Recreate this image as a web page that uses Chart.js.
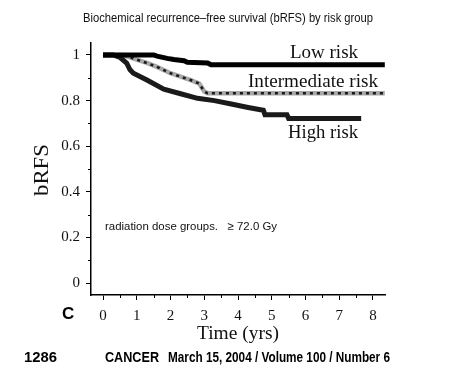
<!DOCTYPE html>
<html><head><meta charset="utf-8">
<script src="https://cdn.jsdelivr.net/npm/chart.js@4.4.1/dist/chart.umd.min.js"></script>
<style>html,body{margin:0;padding:0;background:#fff;overflow:hidden}canvas{display:block}</style>
</head><body>
<canvas id="c" width="455" height="381"></canvas>
<script>
// ---- data ----
const lowRiskTime = [0, 1.5, 1.6, 1.9, 2.1, 2.4, 2.5, 3.1, 3.2, 8.35];
const lowRiskBRFS = [1, 1, 0.995, 0.985, 0.98, 0.975, 0.968, 0.965, 0.957, 0.957];

const intermediateRiskTime = [0, 0.6, 0.8, 1.0, 1.3, 1.6, 2.0, 2.3, 2.6, 2.85, 3.0, 3.1, 8.35];
const intermediateRiskBRFS = [1, 1, 0.99, 0.98, 0.965, 0.948, 0.92, 0.905, 0.89, 0.875, 0.84, 0.832, 0.832];

const highRiskTime = [0, 0.3, 0.5, 0.7, 0.8, 0.9, 1.3, 1.8, 2.3, 2.8, 3.3, 3.8, 4.3, 4.75, 4.8, 5.45, 5.5, 7.65];
const highRiskBRFS = [1, 1, 0.99, 0.965, 0.935, 0.92, 0.89, 0.85, 0.83, 0.81, 0.80, 0.785, 0.77, 0.758, 0.738, 0.738, 0.722, 0.722];

const xTickValues = [0, 1, 2, 3, 4, 5, 6, 7, 8];
const xTickLabels = ['0', '1', '2', '3', '4', '5', '6', '7', '8'];
const yTickValues = [0, 0.2, 0.4, 0.6, 0.8, 1];
const yTickLabels = ['0', '0.2', '0.4', '0.6', '0.8', '1'];
const xMinorTicks = [0.5, 1.5, 2.5, 3.5, 4.5, 5.5, 6.5, 7.5];
const yMinorTicks = [0.1, 0.3, 0.5, 0.7, 0.9];

const titleText = 'Biochemical recurrence\u2013free survival (bRFS) by risk group';
const xTitle = 'Time (yrs)';
const yTitle = 'bRFS';
const panelLetter = 'C';
const noteText = 'radiation dose groups.   \u2265 72.0 Gy';
const seriesLabels = ['Low risk', 'Intermediate risk', 'High risk'];
const footerPage = '1286';
const footerJournal = 'CANCER';
const footerIssue = 'March 15, 2004 / Volume 100 / Number 6';

const pts = (t, s) => t.map((v, i) => ({x: v, y: s[i]}));

function fitText(ctx, text, x, y, width, font, align) {
  ctx.save();
  ctx.font = font;
  const w = ctx.measureText(text).width;
  const k = width / w;
  ctx.translate(x, y);
  ctx.scale(k, 1);
  ctx.textAlign = align || 'left';
  ctx.fillText(text, 0, 0);
  ctx.restore();
}

const decor = {
  id: 'decor',
  afterDraw(chart) {
    const ctx = chart.ctx, xs = chart.scales.x, ys = chart.scales.y, a = chart.chartArea;
    ctx.save();
    ctx.strokeStyle = '#000'; ctx.lineWidth = 1;
    yMinorTicks.forEach(v => { const p = Math.round(ys.getPixelForValue(v)) + 0.5; ctx.beginPath(); ctx.moveTo(a.left - 3, p); ctx.lineTo(a.left, p); ctx.stroke(); });
    xMinorTicks.forEach(v => { const p = Math.round(xs.getPixelForValue(v)) + 0.5; ctx.beginPath(); ctx.moveTo(p, a.bottom); ctx.lineTo(p, a.bottom + 3); ctx.stroke(); });
    ctx.fillStyle = '#111';
    ctx.textBaseline = 'alphabetic';
    fitText(ctx, titleText, 228, 22, 290, '12px "Liberation Sans Narrow", "Liberation Sans", Arial', 'center');
    fitText(ctx, seriesLabels[0], 290, 58, 68, '19px "Liberation Serif", "DejaVu Serif", serif', 'left');
    fitText(ctx, seriesLabels[1], 248, 87, 130, '19px "Liberation Serif", "DejaVu Serif", serif', 'left');
    fitText(ctx, seriesLabels[2], 288, 138, 70, '19px "Liberation Serif", "DejaVu Serif", serif', 'left');
    fitText(ctx, noteText, 105, 230, 172, '11.5px "Liberation Sans Narrow", "Liberation Sans", Arial', 'left');
    ctx.save();
    ctx.translate(48, 170); ctx.rotate(-Math.PI / 2);
    fitText(ctx, yTitle, 0, 0, 52, '21px "Liberation Serif", "DejaVu Serif", serif', 'center');
    ctx.restore();
    fitText(ctx, xTitle, 238, 339, 82, '19px "Liberation Serif", "DejaVu Serif", serif', 'center');
    ctx.font = 'bold 17px "Liberation Sans", Arial'; ctx.textAlign = 'left';
    ctx.fillStyle = '#000';
    ctx.fillText(panelLetter, 62, 319);
    fitText(ctx, footerPage, 24, 362, 33, 'bold 14px "Liberation Sans Narrow", "Liberation Sans", Arial', 'left');
    fitText(ctx, footerJournal, 105, 362, 54, 'bold 14px "Liberation Sans Narrow", "Liberation Sans", Arial', 'left');
    fitText(ctx, footerIssue, 168, 362, 222, 'bold 14px "Liberation Sans Narrow", "Liberation Sans", Arial', 'left');
    ctx.restore();
  }
};

// Chart.js paints dataset 0 last (on top), so the top-most line comes first
new Chart(document.getElementById('c'), {
  type: 'line',
  data: {
    datasets: [
      {label: seriesLabels[0], data: pts(lowRiskTime, lowRiskBRFS), borderColor: '#000', borderWidth: 5},
      {label: seriesLabels[2], data: pts(highRiskTime, highRiskBRFS), borderColor: '#1a1a1a', borderWidth: 5},
      {label: seriesLabels[1] + ' dots', data: pts(intermediateRiskTime, intermediateRiskBRFS), borderColor: '#1a1a1a', borderWidth: 2.6, borderDash: [3, 4]},
      {label: seriesLabels[1], data: pts(intermediateRiskTime, intermediateRiskBRFS), borderColor: '#a8a8a8', borderWidth: 4.5}
    ]
  },
  options: {
    responsive: false, animation: false, devicePixelRatio: 1,
    layout: {padding: {left: 0, right: 70, top: 43, bottom: 0}},
    plugins: {legend: {display: false}, tooltip: {enabled: false}, title: {display: false}},
    elements: {point: {radius: 0}, line: {tension: 0, borderCapStyle: 'butt', borderJoinStyle: 'miter'}},
    scales: {
      x: {
        type: 'linear', min: -0.356, max: 8.356,
        afterBuildTicks: s => { s.ticks = xTickValues.map(v => ({value: v})); },
        ticks: {callback: (v) => xTickLabels[xTickValues.indexOf(v)], font: {family: '"Liberation Serif", "DejaVu Serif", serif', size: 15}, color: '#111', padding: 7, maxRotation: 0, autoSkip: false},
        grid: {drawOnChartArea: false, tickLength: 5, color: '#000', lineWidth: 1},
        border: {color: '#000', width: 1.5},
        afterFit: s => { s.height = 86; }
      },
      y: {
        type: 'linear', min: -0.0526, max: 1.0526,
        afterBuildTicks: s => { s.ticks = yTickValues.map(v => ({value: v})); },
        ticks: {callback: (v) => yTickLabels[yTickValues.indexOf(v)], font: {family: '"Liberation Serif", "DejaVu Serif", serif', size: 15}, color: '#111', padding: 6, autoSkip: false},
        grid: {drawOnChartArea: false, tickLength: 5, color: '#000', lineWidth: 1},
        border: {color: '#000', width: 1.5},
        afterFit: s => { s.width = 91; }
      }
    }
  },
  plugins: [decor]
});
</script>
</body></html>
